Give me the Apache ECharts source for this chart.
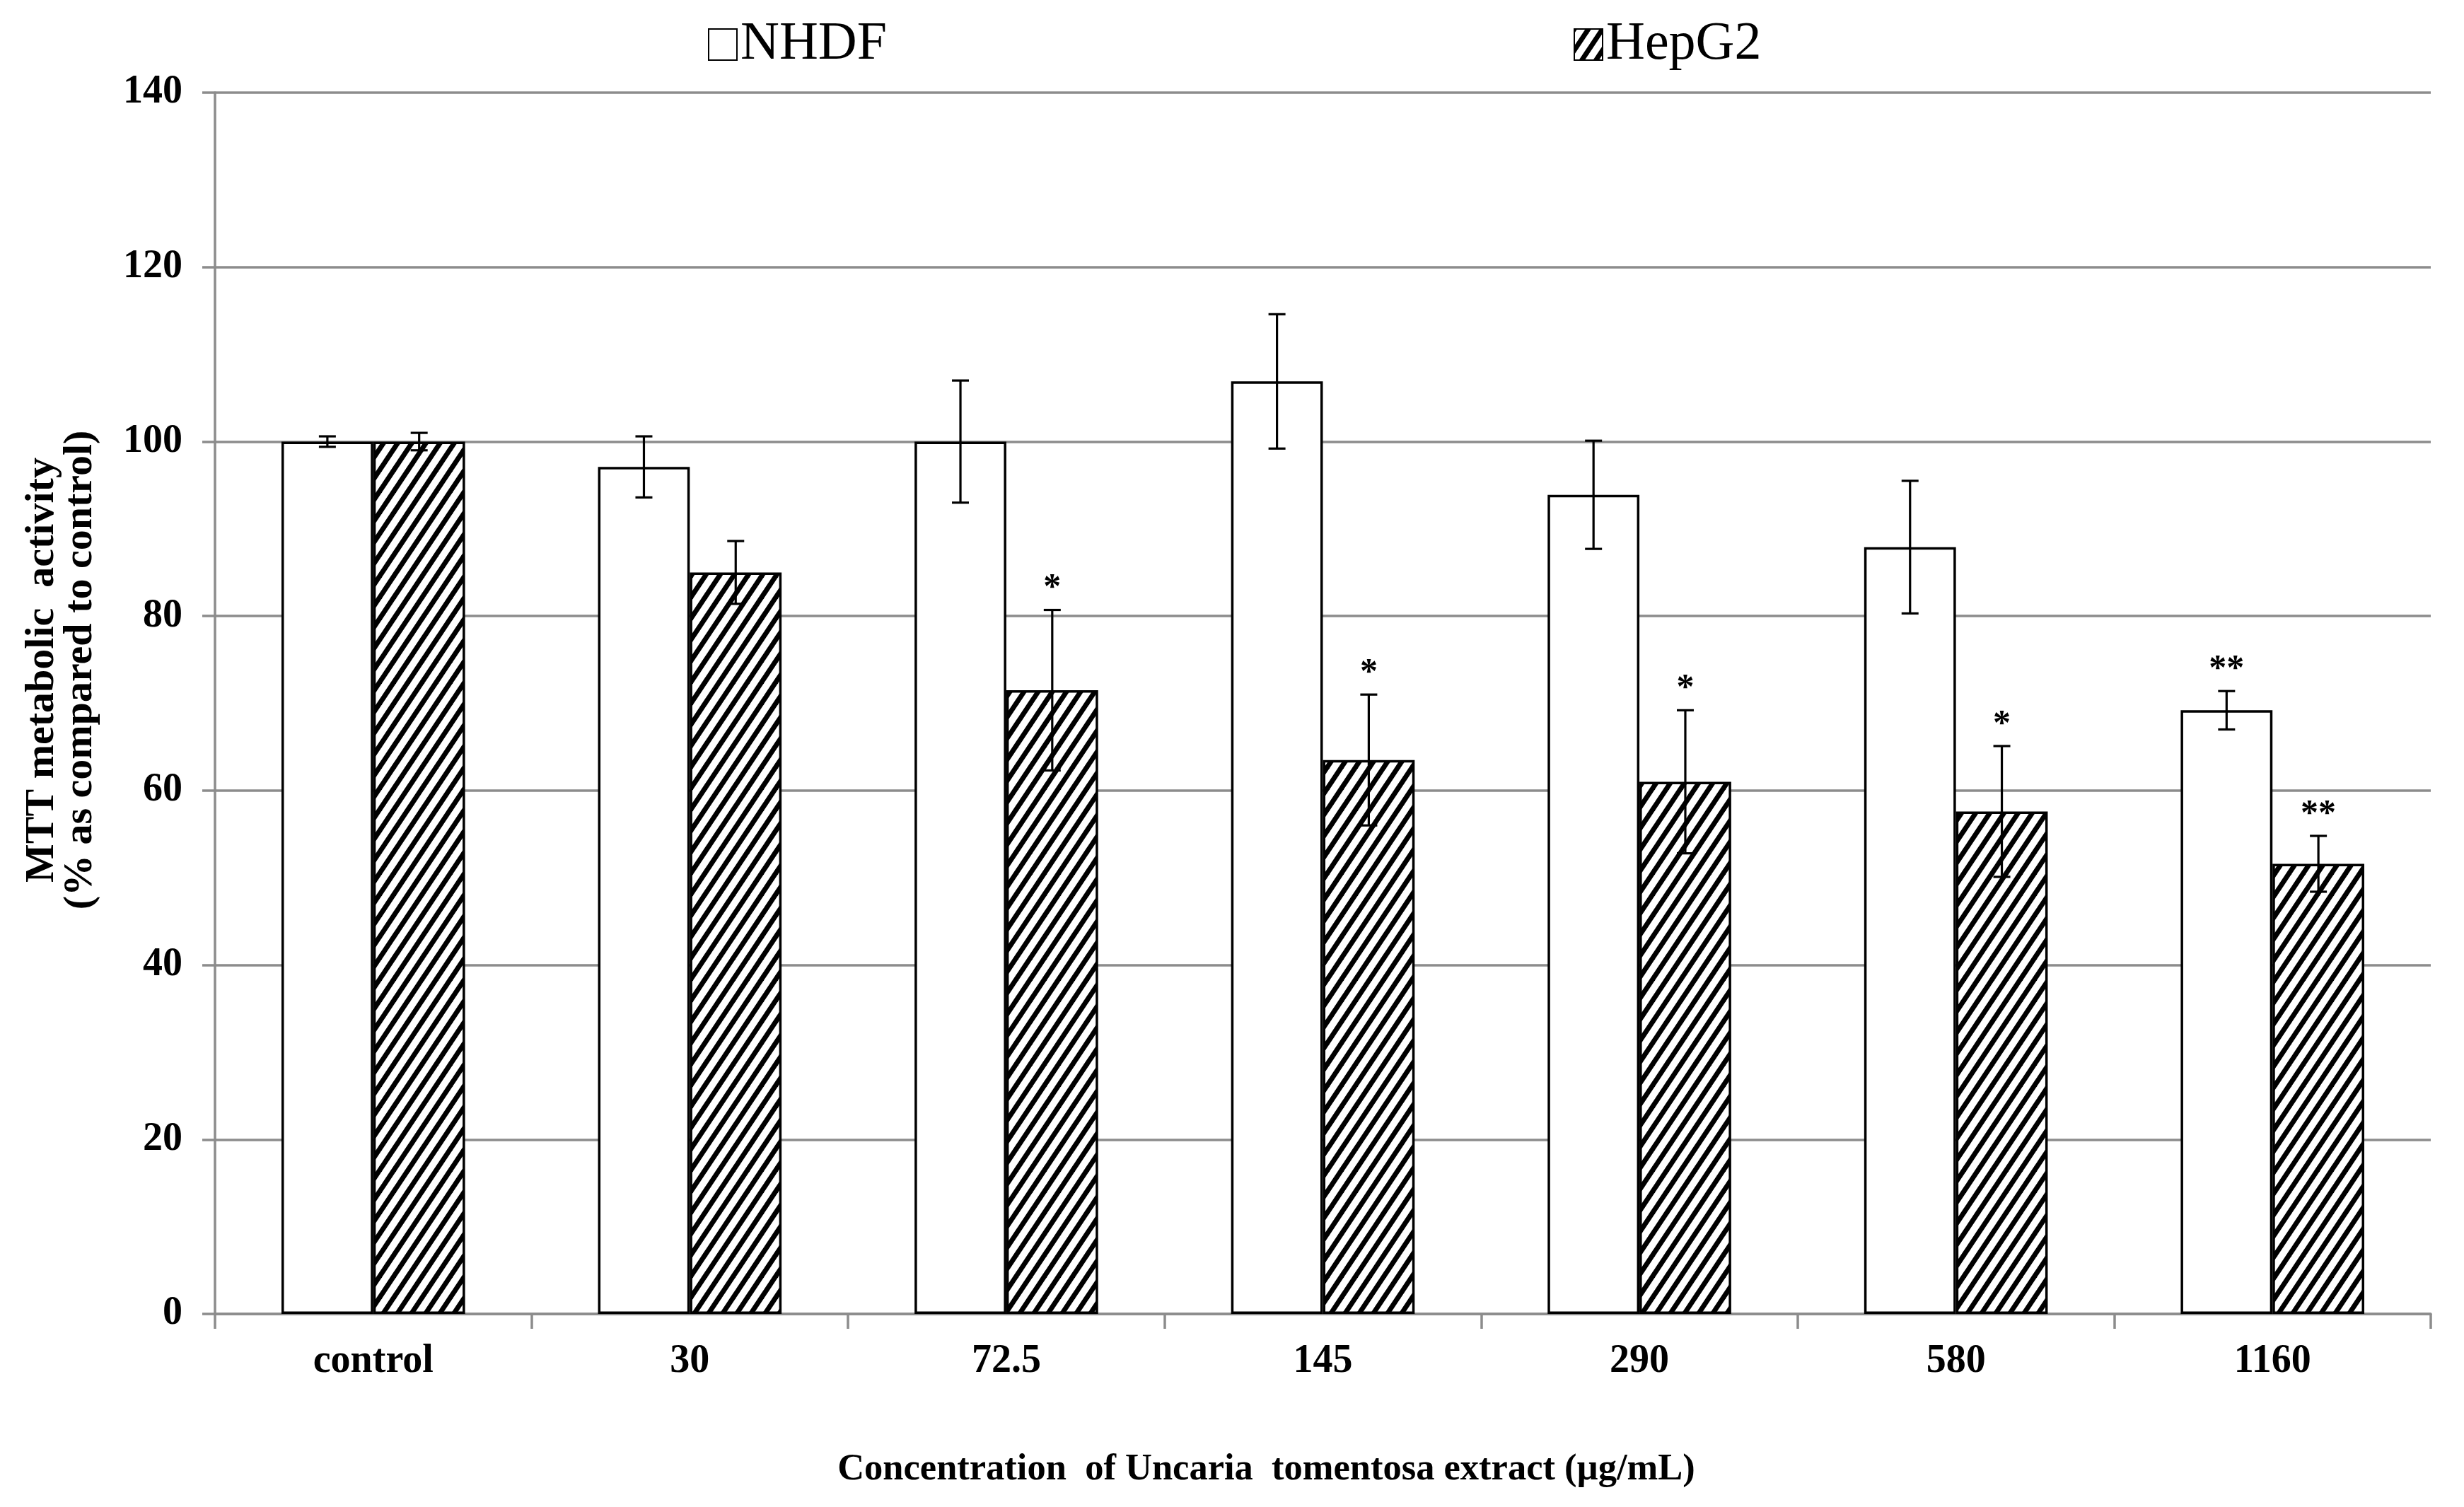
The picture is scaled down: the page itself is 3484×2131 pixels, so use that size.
<!DOCTYPE html>
<html>
<head>
<meta charset="utf-8">
<script src="https://cdn.jsdelivr.net/npm/echarts@6/dist/echarts.min.js"></script>
<style>
html,body{margin:0;padding:0;background:#fff;}
#chart{width:3484px;height:2131px;}
</style>
</head>
<body>
<div id="chart"></div>
<script>
// ---- data ----
const categories = ['control', '30', '72.5', '145', '290', '580', '1160'];
const nhdfValues = [100, 97.1, 100, 106.9, 93.9, 87.9, 69.2];
const nhdfErrors = [0.6, 3.5, 7.0, 7.7, 6.2, 7.6, 2.2];
const hepg2Values = [100, 85.0, 71.5, 63.5, 61.0, 57.6, 51.6];
const hepg2Errors = [1.0, 3.6, 9.2, 7.5, 8.2, 7.5, 3.2];
const nhdfSig = ['', '', '', '', '', '', '**'];
const hepg2Sig = ['', '', '*', '*', '*', '*', '**'];
const yTicks = [0, 20, 40, 60, 80, 100, 120, 140];

// ---- styles ----
const FONT = "'Times New Roman', 'Liberation Serif', serif";
const GRAY = '#8c8c8c';
const CAT_GAP = 0.42; // barCategoryGap fraction

function makeHatch() {
  const W = 20, H = 30;
  const cv = document.createElement('canvas');
  cv.width = W; cv.height = H;
  const ctx = cv.getContext('2d');
  ctx.fillStyle = '#fff';
  ctx.fillRect(0, 0, W, H);
  ctx.strokeStyle = '#000';
  ctx.lineWidth = 7;
  for (let k = -1; k <= 1; k++) {
    ctx.beginPath();
    ctx.moveTo(k * W - W, 2 * H);
    ctx.lineTo(k * W + 2 * W, -H);
    ctx.stroke();
  }
  return cv;
}
const hatch = { image: makeHatch(), repeat: 'repeat' };

function errorSeries(values, errors, sigs, side) {
  return {
    type: 'custom',
    z: 10,
    silent: true,
    data: values.map((v, i) => [i, v, errors[i]]),
    renderItem: function (params, api) {
      const idx = api.value(0), v = api.value(1), e = api.value(2);
      const bw = api.size([1, 0])[0];
      const barW = bw * (1 - CAT_GAP) / 2;
      const cx = api.coord([idx, v])[0] + side * barW / 2;
      const yTop = api.coord([idx, v + e])[1];
      const yBot = api.coord([idx, v - e])[1];
      const cap = 12;
      const st = { stroke: '#000', lineWidth: 3.2 };
      const children = [
        { type: 'line', shape: { x1: cx, y1: yTop, x2: cx, y2: yBot }, style: st },
        { type: 'line', shape: { x1: cx - cap, y1: yTop, x2: cx + cap, y2: yTop }, style: st },
        { type: 'line', shape: { x1: cx - cap, y1: yBot, x2: cx + cap, y2: yBot }, style: st }
      ];
      const s = sigs[params.dataIndex];
      if (s) {
        children.push({
          type: 'text',
          style: {
            text: s, x: cx, y: yTop - 30,
            align: 'center', verticalAlign: 'middle',
            font: 'bold 50px ' + FONT, fill: '#000'
          }
        });
      }
      return { type: 'group', children: children };
    }
  };
}

const chart = echarts.init(document.getElementById('chart'), null, { renderer: 'canvas' });
const option = {
  backgroundColor: '#fff',
  animation: false,
  legend: [
    {
      data: ['NHDF'], left: 996, top: 20, icon: 'rect',
      itemWidth: 40, itemHeight: 44,
      textStyle: { fontFamily: FONT, fontSize: 76, color: '#000' }
    },
    {
      data: ['HepG2'], left: 2220, top: 20, icon: 'rect',
      itemWidth: 40, itemHeight: 44,
      textStyle: { fontFamily: FONT, fontSize: 76, color: '#000' }
    }
  ],
  grid: { left: 304, right: 47, top: 131, bottom: 273, containLabel: false, outerBoundsMode: 'none' },
  xAxis: {
    type: 'category',
    data: categories,
    axisLine: { lineStyle: { color: GRAY, width: 3.5 } },
    axisTick: { show: true, length: 21, alignWithLabel: false, lineStyle: { color: GRAY, width: 3.5 } },
    axisLabel: { fontFamily: FONT, fontWeight: 'bold', fontSize: 56, color: '#000', margin: 40 },
    name: 'Concentration  of Uncaria  tomentosa extract (\u00b5g/mL)',
    nameLocation: 'middle',
    nameMoveOverlap: false,
    nameGap: 194,
    nameTextStyle: { fontFamily: FONT, fontWeight: 'bold', fontSize: 52.5, color: '#000', padding: [0, 160, 0, 0] }
  },
  yAxis: {
    type: 'value',
    min: 0, max: 140, interval: 20,
    axisLine: { show: true, lineStyle: { color: GRAY, width: 3.5 } },
    axisTick: { show: true, length: 18, lineStyle: { color: GRAY, width: 3.5 } },
    splitLine: { show: true, lineStyle: { color: GRAY, width: 3.5 } },
    axisLabel: {
      fontFamily: FONT, fontWeight: 'bold', fontSize: 56, color: '#000', margin: 46,
      formatter: function (v) { return yTicks.indexOf(v) >= 0 ? String(v) : ''; }
    },
    name: 'MTT metabolic  activity\n(% as compared to control)',
    nameLocation: 'middle',
    nameRotate: 90,
    nameMoveOverlap: false,
    nameGap: 163,
    nameTextStyle: { fontFamily: FONT, fontWeight: 'bold', fontSize: 58, lineHeight: 54, color: '#000', padding: [0, 0, 0, 94] }
  },
  series: [
    {
      name: 'NHDF', type: 'bar', data: nhdfValues,
      barGap: '0%', barCategoryGap: (CAT_GAP * 100) + '%',
      itemStyle: { color: '#fff', borderColor: '#000', borderWidth: 3.5 },
      z: 5
    },
    {
      name: 'HepG2', type: 'bar', data: hepg2Values,
      barGap: '0%', barCategoryGap: (CAT_GAP * 100) + '%',
      itemStyle: { color: hatch, borderColor: '#000', borderWidth: 3.5 },
      z: 5
    },
    errorSeries(nhdfValues, nhdfErrors, nhdfSig, -1),
    errorSeries(hepg2Values, hepg2Errors, hepg2Sig, 1)
  ]
};
chart.setOption(option);
</script>
</body>
</html>
